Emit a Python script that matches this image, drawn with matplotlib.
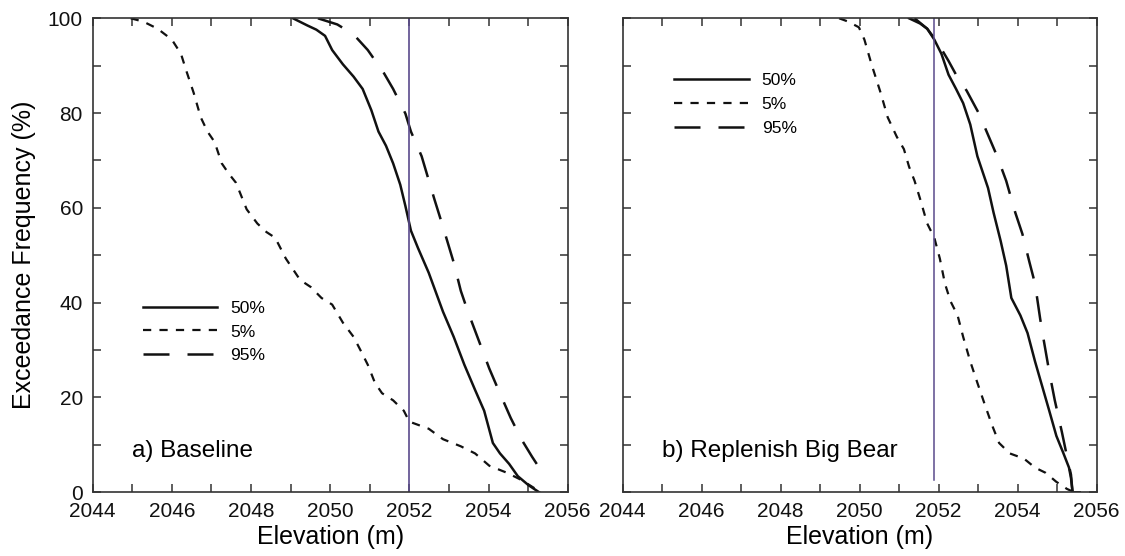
import numpy as np
import matplotlib.pyplot as plt

plt.rcParams['font.family'] = ['Liberation Sans', 'DejaVu Sans']

# a) Baseline - elevation (m) vs exceedance frequency (%)
base_50_x = [2049.06, 2049.42, 2049.65, 2049.87, 2050.05, 2050.32, 2050.59, 2050.82, 2051.04,
             2051.22, 2051.41, 2051.59, 2051.77, 2051.90, 2052.04, 2052.22, 2052.49, 2052.85,
             2053.12, 2053.39, 2053.66, 2053.89, 2054.11, 2054.29, 2054.52, 2054.74, 2055.01, 2055.28]
base_50_y = [100, 98.5, 97.6, 96.3, 93.3, 90.3, 87.7, 85.1, 80.6,
             76.1, 73.1, 69.4, 64.9, 60.4, 55.2, 51.5, 46.3, 38.1,
             32.8, 26.9, 21.6, 17.2, 10.4, 8.2, 6.0, 3.4, 1.5, 0]

base_5_x = [2044.96, 2045.28, 2045.64, 2046.00, 2046.23, 2046.37, 2046.55, 2046.73, 2046.90, 2047.08,
            2047.26, 2047.44, 2047.62, 2047.89, 2048.16, 2048.39, 2048.61, 2048.88, 2049.24, 2049.51,
            2049.78, 2050.05, 2050.32, 2050.59, 2050.77, 2050.95, 2051.13, 2051.31, 2051.59, 2051.86,
            2052.00, 2052.49, 2052.85, 2053.30, 2053.66, 2054.02, 2054.47, 2054.83, 2055.19, 2055.28]
base_5_y = [100, 99.3, 97.8, 95.5, 92.5, 88.8, 84.3, 79.1, 76.1, 73.9,
            69.4, 67.2, 65.3, 59.7, 56.7, 54.9, 53.7, 49.3, 44.8, 43.3,
            41.0, 39.6, 35.8, 32.8, 29.9, 26.9, 23.1, 20.9, 19.4, 17.2,
            14.9, 13.4, 11.2, 9.7, 8.2, 5.6, 4.1, 2.6, 0.7, 0]

base_95_x = [2049.69, 2050.18, 2050.59, 2050.95, 2051.36, 2051.59, 2051.90, 2052.04, 2052.31, 2052.63,
             2052.85, 2053.12, 2053.30, 2053.48, 2053.75, 2054.02, 2054.25, 2054.56, 2054.83, 2055.10,
             2055.28, 2055.33]
base_95_y = [100, 98.7, 96.6, 93.3, 88.4, 85.1, 79.9, 76.1, 70.9, 61.9,
             56.0, 48.5, 42.5, 38.1, 32.1, 26.1, 21.6, 15.7, 11.2, 7.5,
             5.2, 3.2]

# b) Replenish Big Bear
rep_50_x = [2051.25, 2051.53, 2051.71, 2051.89, 2052.07, 2052.25, 2052.44, 2052.62, 2052.80, 2052.98,
            2053.25, 2053.39, 2053.57, 2053.71, 2053.84, 2054.07, 2054.25, 2054.44, 2054.62, 2054.80,
            2054.98, 2055.16, 2055.30, 2055.35, 2055.39, 2055.57]
rep_50_y = [100, 98.9, 97.8, 95.5, 92.5, 88.1, 85.1, 82.1, 77.6, 70.9,
            64.2, 59.0, 53.0, 47.8, 41.0, 37.3, 33.6, 27.6, 22.4, 17.2,
            11.9, 8.2, 5.2, 3.0, 0, 0]

rep_5_x = [2049.48, 2049.71, 2049.98, 2050.12, 2050.30, 2050.53, 2050.71, 2050.94, 2051.12, 2051.25,
           2051.39, 2051.53, 2051.71, 2051.89, 2052.03, 2052.16, 2052.30, 2052.48, 2052.62, 2052.80,
           2052.98, 2053.16, 2053.35, 2053.53, 2053.80, 2054.16, 2054.44, 2054.71, 2054.98, 2055.25,
           2055.44]
rep_5_y = [100, 99.3, 98.1, 95.5, 90.3, 84.3, 79.1, 75.0, 72.4, 68.7,
           65.7, 61.9, 56.7, 53.7, 49.3, 44.0, 40.3, 37.3, 32.8, 27.6,
           23.1, 18.7, 14.2, 10.4, 8.2, 7.1, 5.2, 4.1, 2.2, 0.7,
           0]

rep_95_x = [2051.39, 2051.71, 2051.98, 2052.25, 2052.44, 2052.71, 2053.02, 2053.25, 2053.48, 2053.71,
            2053.94, 2054.12, 2054.30, 2054.44, 2054.57, 2054.66, 2054.80, 2054.94, 2055.12, 2055.25,
            2055.35, 2055.39]
rep_95_y = [100, 97.8, 94.8, 91.0, 88.1, 84.7, 79.9, 75.4, 70.9, 65.7,
            59.0, 54.5, 48.5, 44.0, 36.6, 32.1, 25.4, 19.4, 12.7, 7.5,
            3.7, 0]

labels = ['50%', '5%', '95%']
ref_elev = [2052.0, 2051.89]
panel_titles = ['a) Baseline', 'b) Replenish Big Bear']

fig = plt.figure(figsize=(11.25, 5.56), dpi=100)
ax1 = fig.add_axes([0.0824, 0.1146, 0.4222, 0.8525])
ax2 = fig.add_axes([0.5535, 0.1146, 0.4213, 0.8525])

line_col = '#111111'
vline_col = '#5a4a8c'
styles = ['-', (0, (3.7, 3.7)), (0, (10.4, 7.2))]
lws = [1.8, 1.6, 1.8]

panels = [
    (ax1, [(base_50_x, base_50_y), (base_5_x, base_5_y), (base_95_x, base_95_y)]),
    (ax2, [(rep_50_x, rep_50_y), (rep_5_x, rep_5_y), (rep_95_x, rep_95_y)]),
]

for i, (ax, series) in enumerate(panels):
    for (xs, ys), ls, lw, lab in zip(series, styles, lws, labels):
        ax.plot(xs, ys, color=line_col, lw=lw, linestyle=ls, label=lab)

    ax.set_xlim(2044, 2056)
    ax.set_ylim(0, 100)
    ax.set_xticks(np.arange(2044, 2057, 2))
    ax.set_xticks(np.arange(2045, 2056, 2), minor=True)
    ax.set_yticks(np.arange(0, 101, 20))
    ax.set_yticks(np.arange(10, 100, 20), minor=True)
    ax.tick_params(which='both', direction='in', top=True, right=True,
                   length=6, width=1.1, color='#333333')
    ax.tick_params(axis='both', labelsize=15, pad=7, labelcolor='#111111')
    for sp in ax.spines.values():
        sp.set_linewidth(1.2)
        sp.set_color('#333333')
    ax.set_xlabel('Elevation (m)', fontsize=18, labelpad=3)
    ax.text(2045.0, 7.5, panel_titles[i], fontsize=17.5, va='baseline', ha='left')

ax1.axvline(ref_elev[0], color=vline_col, lw=1.2)
ax2.axvline(ref_elev[1], ymin=0.026, ymax=1, color=vline_col, lw=1.1)

ax2.set_yticklabels([])
ax1.set_ylabel('Exceedance Frequency (%)', fontsize=18)
ax1.yaxis.set_label_coords(-0.12, 0.5)

leg_kw = dict(frameon=False, fontsize=12.5, handlelength=4.3, handletextpad=0.75,
              labelspacing=0.5, borderpad=0, borderaxespad=0, loc='upper left')
ax1.legend(bbox_to_anchor=(2045.26, 40.45), bbox_transform=ax1.transData, **leg_kw)
ax2.legend(bbox_to_anchor=(2045.3, 88.5), bbox_transform=ax2.transData, **leg_kw)

fig.savefig('out.png', dpi=100)
